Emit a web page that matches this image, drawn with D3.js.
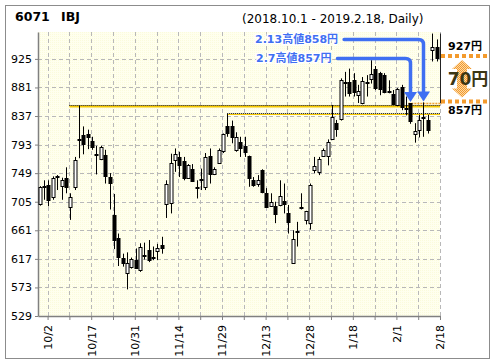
<!DOCTYPE html>
<html>
<head>
<meta charset="utf-8">
<script src="https://cdn.jsdelivr.net/npm/d3@7"></script>
<style>
body { margin: 0; background: #fff; }
svg text { font-family: "DejaVu Sans", "Noto Sans CJK JP", sans-serif; }
</style>
</head>
<body>
<div id="chart"></div>
<script>
// trading days 2018.10.1 - 2019.2.18
const dates = [
  '10/1','10/2','10/3','10/4','10/5','10/9','10/10','10/11','10/12','10/15','10/16','10/17','10/18','10/19','10/22','10/23','10/24','10/25','10/26','10/29','10/30','10/31',
  '11/1','11/2','11/5','11/6','11/7','11/8','11/9','11/12','11/13','11/14','11/15','11/16','11/19','11/20','11/21','11/22','11/26','11/27','11/28','11/29','11/30',
  '12/3','12/4','12/5','12/6','12/7','12/10','12/11','12/12','12/13','12/14','12/17','12/18','12/19','12/20','12/21','12/25','12/26','12/27','12/28',
  '1/4','1/7','1/8','1/9','1/10','1/11','1/15','1/16','1/17','1/18','1/21','1/22','1/23','1/24','1/25','1/28','1/29','1/30','1/31',
  '2/1','2/4','2/5','2/6','2/7','2/8','2/12','2/13','2/14','2/15','2/18'
]
const opens = [
  701,729,730,712,744,728,741,697,728,800,807,810,799,778,772,777,743,684,649,619,595,605,
  616,600,621,630,620,628,639,702,702,769,774,768,742,756,727,739,728,775,749,765,783,
  822,822,785,797,791,775,739,732,754,719,699,698,700,706,688,611,659,696,676,
  672,754,751,776,776,801,826,832,888,890,893,870,857,888,894,910,903,900,874,
  871,854,881,850,857,809,815,835,831,939,944
]
const highs = [
  729,738,738,744,746,742,758,718,774,853,821,816,805,791,791,785,749,717,656,625,627,619,
  633,641,642,646,636,640,651,738,779,787,782,774,763,763,738,756,780,787,758,787,810,
  840,830,812,805,805,776,743,746,755,726,718,705,738,733,700,661,674,718,691,
  733,774,774,787,801,854,831,895,905,910,903,885,897,900,923,914,905,903,892,
  877,880,885,867,857,826,839,858,839,964,955
]
const lows = [
  699,708,698,708,723,708,718,677,723,772,778,786,785,747,769,733,693,632,606,605,570,602,
  602,597,616,612,615,615,625,680,687,751,743,738,741,736,710,723,723,733,746,764,780,
  805,795,782,774,774,728,728,728,718,697,698,672,698,687,656,611,636,693,670,
  662,749,746,775,761,800,805,830,867,867,867,857,855,867,887,877,869,872,872,
  854,852,846,838,825,796,804,805,810,921,921
]
const closes = [
  727,728,707,741,743,738,727,712,769,802,793,806,790,777,790,745,734,645,619,611,611,617,
  604,636,623,614,619,633,634,733,764,778,762,742,762,738,728,740,774,748,756,785,809,
  811,805,805,787,782,741,731,738,720,698,705,685,714,702,674,648,660,697,690,
  731,760,771,785,797,835,816,892,889,873,874,876,891,889,901,880,878,874,875,
  856,878,850,848,830,814,831,833,815,943,927
]

const yTicks = [529, 573, 617, 661, 705, 749, 793, 837, 881, 925]
const xTickLabels = ['10/2', '10/17', '10/31', '11/14', '11/29', '12/13', '12/28', '1/18', '2/1', '2/18']

// resistance lines: price and the date they start from
const lineDates = ['10/10', '12/3']
const linePrices = [853, 840]

const highLabels = ['2.13高値858円', '2.7高値857円']
const highDates = ['2/13', '2/7']
const highPrices = [858, 857]

const lastClose = 927
const refHigh = 857

const W = 496, H = 364
const margin = { top: 32, right: 56, bottom: 48, left: 38 }
const pw = W - margin.left - margin.right
const ph = H - margin.top - margin.bottom

const data = dates.map((d, i) => ({ date: d, i: i, o: opens[i], h: highs[i], l: lows[i], c: closes[i] }))

const x = d3.scaleLinear().domain([-0.4, dates.length - 0.2]).range([margin.left, margin.left + pw])
const y = d3.scaleLinear().domain([529, 966.4]).range([margin.top + ph, margin.top])
// gridlines sit a little right of the candle they belong to
const slotShift = 0.8

const svg = d3.select('#chart').append('svg')
  .attr('width', W).attr('height', H)

const defs = svg.append('defs')
defs.append('clipPath').attr('id', 'plotClip')
  .append('rect')
  .attr('x', margin.left).attr('y', margin.top)
  .attr('width', pw).attr('height', ph)

const pat = defs.append('pattern').attr('id', 'orangeDots')
  .attr('width', 2).attr('height', 2).attr('patternUnits', 'userSpaceOnUse')
pat.append('rect').attr('width', 2).attr('height', 2).attr('fill', '#fbd9a8')
pat.append('rect').attr('width', 1).attr('height', 1).attr('fill', '#f39a2c')
pat.append('rect').attr('x', 1).attr('y', 1).attr('width', 1).attr('height', 1).attr('fill', '#f39a2c')

// pale yellow, slightly textured plot background
const bg = defs.append('pattern').attr('id', 'bgDots')
  .attr('width', 2).attr('height', 2).attr('patternUnits', 'userSpaceOnUse')
bg.append('rect').attr('width', 2).attr('height', 2).attr('fill', '#ffffee')
bg.append('rect').attr('width', 1).attr('height', 1).attr('fill', '#fbfbdc')

// outer frame
svg.append('rect')
  .attr('x', 5.5).attr('y', 5.5).attr('width', 484).attr('height', 353)
  .attr('fill', '#fff').attr('stroke', '#8c8c8c')

// title
svg.append('text').attr('x', 15).attr('y', 21)
  .attr('font-size', 12.5).attr('font-weight', 'bold').text('6071')
svg.append('text').attr('x', 61).attr('y', 21)
  .attr('font-size', 12.5).attr('font-weight', 'bold').text('IBJ')
svg.append('text').attr('x', 242).attr('y', 23)
  .attr('font-size', 12).text('(2018.10.1 - 2019.2.18, Daily)')

// plot background
svg.append('rect')
  .attr('x', margin.left).attr('y', margin.top)
  .attr('width', pw).attr('height', ph)
  .attr('fill', 'url(#bgDots)')

const gridIdx = d3.range(1, dates.length, 5)

// grid
const grid = svg.append('g')
grid.selectAll('.hg').data(yTicks.slice(1)).enter().append('line')
  .attr('x1', margin.left).attr('x2', margin.left + pw)
  .attr('y1', d => Math.round(y(d)) + 0.5).attr('y2', d => Math.round(y(d)) + 0.5)
  .attr('stroke', '#b8b8b8').attr('stroke-dasharray', '4,3')
grid.selectAll('.vg').data(gridIdx).enter().append('line')
  .attr('x1', d => Math.round(x(d + slotShift)) + 0.5).attr('x2', d => Math.round(x(d + slotShift)) + 0.5)
  .attr('y1', margin.top).attr('y2', margin.top + ph)
  .attr('stroke', '#b8b8b8').attr('stroke-dasharray', '4,3')

// axes
const yAxis = svg.append('g')
  .attr('transform', `translate(${margin.left},0)`)
  .call(d3.axisLeft(y).tickValues(yTicks).tickSize(3).tickPadding(3).tickSizeOuter(0))
yAxis.selectAll('text').attr('font-size', 11).attr('fill', '#000')
  .style('font-family', '"DejaVu Sans", sans-serif')
yAxis.selectAll('line').attr('stroke', '#808080')
yAxis.select('.domain').attr('stroke', '#808080').attr('stroke-width', 1.5)

const xAxis = svg.append('g')
  .attr('transform', `translate(0,${margin.top + ph})`)
  .call(d3.axisBottom(x)
    .tickValues(gridIdx.map(i => i + slotShift))
    .tickSize(4)
    .tickSizeOuter(0)
    .tickFormat(v => {
      const d = dates[Math.round(v - slotShift)]
      return xTickLabels.includes(d) ? d : ''
    }))
xAxis.selectAll('line').attr('stroke', '#808080')
xAxis.select('.domain').attr('stroke', '#808080').attr('stroke-width', 1.5)
xAxis.selectAll('text')
  .attr('font-size', 11).attr('fill', '#000')
  .style('font-family', '"DejaVu Sans", sans-serif')
  .attr('text-anchor', 'end')
  .attr('transform', 'rotate(-90)')
  .attr('x', -9).attr('y', 0).attr('dy', '0.35em')

// resistance lines
const lines = svg.append('g').attr('clip-path', 'url(#plotClip)')
lineDates.forEach((d, k) => {
  const xs = k === 0 ? x(dates.indexOf(d) + slotShift) : x(dates.indexOf(d))
  const yy = Math.round(y(linePrices[k]))
  lines.append('line')
    .attr('x1', xs).attr('x2', margin.left + pw)
    .attr('y1', yy + 0.5).attr('y2', yy + 0.5)
    .attr('stroke', '#f5c800').attr('stroke-width', k === 0 ? 2 : 1)
  lines.append('line')
    .attr('x1', xs).attr('x2', margin.left + pw)
    .attr('y1', yy - 0.5).attr('y2', yy - 0.5)
    .attr('stroke', '#000').attr('stroke-width', 1).attr('stroke-dasharray', '1,1')
})

// 857 level from 2/7 high
const i27 = dates.indexOf(highDates[1])
svg.append('line')
  .attr('x1', x(i27) - 2).attr('x2', margin.left + pw + 2)
  .attr('y1', Math.round(y(refHigh)) + 0.5).attr('y2', Math.round(y(refHigh)) + 0.5)
  .attr('stroke', '#f0a030').attr('stroke-width', 1.5).attr('stroke-dasharray', '2,1')

// candles
const candles = svg.append('g').attr('clip-path', 'url(#plotClip)')
const cg = candles.selectAll('g').data(data).enter().append('g')
cg.append('line')
  .attr('x1', d => Math.round(x(d.i)) + 0.5).attr('x2', d => Math.round(x(d.i)) + 0.5)
  .attr('y1', d => y(d.h)).attr('y2', d => y(d.l))
  .attr('stroke', '#000')
cg.append('rect')
  .attr('x', d => Math.round(x(d.i)) - 1)
  .attr('width', 3)
  .attr('y', d => Math.round(y(Math.max(d.o, d.c))) + 0.5)
  .attr('height', d => Math.max(1, Math.round(Math.abs(y(d.o) - y(d.c)))))
  .attr('fill', d => d.c >= d.o ? '#fff' : '#000')
  .attr('stroke', '#000')

// line at right edge from the 2/15 high down to the reference level
svg.append('line')
  .attr('x1', Math.round(x(dates.length - 1)) + 3.5).attr('x2', Math.round(x(dates.length - 1)) + 3.5)
  .attr('y1', y(highs[dates.length - 2])).attr('y2', y(refHigh))
  .attr('stroke', '#222')

// blue high annotations
const blue = '#3f6ff2'
const ann = svg.append('g')
const labelPos = [[255, 39.5], [256, 58.5]]
highLabels.forEach((t, k) => {
  const [tx, ty] = labelPos[k]
  const txt = ann.append('text')
    .attr('x', tx).attr('y', ty).attr('dy', '0.36em')
    .attr('font-size', 11).attr('font-weight', 'bold')
    .attr('fill', blue)
    .attr('stroke', '#fff').attr('stroke-width', 2.5).attr('paint-order', 'stroke')
    .text(t)
  const tw = txt.node().getComputedTextLength()
  const ax = Math.round(x(dates.indexOf(highDates[k]))) + 0.5
  const tipY = y(highPrices[k]) - 1
  const r = 5
  ann.append('path')
    .attr('d', `M${tx + tw + 6},${ty} H${ax - r} Q${ax},${ty} ${ax},${ty + r} V${tipY - 8}`)
    .attr('fill', 'none').attr('stroke', blue).attr('stroke-width', 3.5)
    .attr('stroke-linecap', 'round')
  ann.append('path')
    .attr('d', `M${ax - 6.5},${tipY - 10} L${ax + 6.5},${tipY - 10} L${ax},${tipY} Z`)
    .attr('fill', blue)
})

// difference marker on the right
const yTop = y(lastClose) - 1.5
const yBot = y(refHigh) - 1.5
const mx0 = margin.left + pw + 1, mx1 = 490
svg.append('line').attr('x1', mx0).attr('x2', mx1).attr('y1', yTop).attr('y2', yTop)
  .attr('stroke', '#f39a2c').attr('stroke-width', 4).attr('stroke-dasharray', '4,3')
svg.append('line').attr('x1', mx0).attr('x2', mx1).attr('y1', yBot).attr('y2', yBot)
  .attr('stroke', '#f39a2c').attr('stroke-width', 4).attr('stroke-dasharray', '4,3')

const acx = 462
const ah = 9
svg.append('path')
  .attr('d', `M${acx},${yTop + 4} L${acx + 10},${yTop + 4 + ah} L${acx + 5},${yTop + 4 + ah} L${acx + 5},${yBot - 4 - ah} L${acx + 10},${yBot - 4 - ah} L${acx},${yBot - 4} L${acx - 10},${yBot - 4 - ah} L${acx - 5},${yBot - 4 - ah} L${acx - 5},${yTop + 4 + ah} L${acx - 10},${yTop + 4 + ah} Z`)
  .attr('fill', 'url(#orangeDots)')

svg.append('text').attr('x', 468).attr('y', (yTop + yBot) / 2).attr('dy', '0.36em')
  .attr('text-anchor', 'middle').attr('font-size', 17).attr('font-weight', 'bold')
  .attr('fill', '#3b3614')
  .text(`${lastClose - refHigh}円`)

svg.append('text').attr('x', 448).attr('y', yTop - 10).attr('dy', '0.36em')
  .attr('font-size', 11).attr('font-weight', 'bold').text(`${lastClose}円`)
svg.append('text').attr('x', 448).attr('y', yBot + 9).attr('dy', '0.36em')
  .attr('font-size', 11).attr('font-weight', 'bold').text(`${refHigh}円`)
</script>
</body>
</html>
